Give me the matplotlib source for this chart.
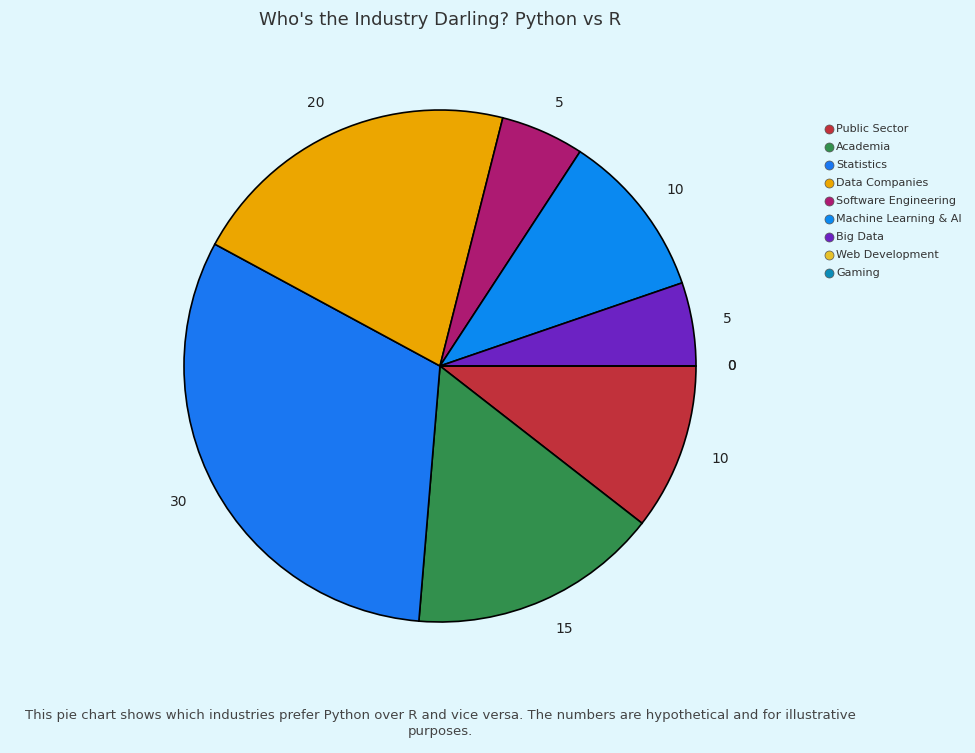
import matplotlib.pyplot as plt
from matplotlib.lines import Line2D

# данные
industries = ['Public Sector', 'Academia', 'Statistics', 'Data Companies',
              'Software Engineering', 'Machine Learning & AI', 'Big Data',
              'Web Development', 'Gaming']
values = [10, 15, 30, 20, 5, 10, 5, 0, 0]
colors = ['#c1313b', '#32904d', '#1a77f2', '#eca600', '#ad1a72',
          '#0a89f1', '#6c22c3', '#e6c12b', '#0b8cb7']

bg = '#e1f7fd'
fig = plt.figure(figsize=(9.75, 7.53), dpi=100, facecolor=bg)
ax = fig.add_axes([(440 - 256) / 975, (387 - 256) / 753, 512 / 975, 512 / 753])
ax.set_facecolor(bg)

ax.pie(values, colors=colors, startangle=0, counterclock=False,
       labels=[str(v) for v in values], labeldistance=1.12,
       wedgeprops=dict(edgecolor='black', linewidth=1.2),
       textprops=dict(fontsize=10, color='#222222'))
ax.set_xlim(-1, 1)
ax.set_ylim(-1, 1)
ax.set_aspect('equal')

fig.text(440 / 975, 1 - 20 / 753, "Who's the Industry Darling? Python vs R",
         ha='center', va='center', fontsize=13, color='#333333')

handles = [Line2D([], [], marker='o', linestyle='', markersize=6.5,
                  markerfacecolor=c, markeredgecolor='#555555', markeredgewidth=0.5)
           for c in colors]
fig.legend(handles, industries, loc='upper left',
           bbox_to_anchor=(818 / 975, 1 - 120 / 753), frameon=False,
           fontsize=8, handletextpad=0.05, labelspacing=0.72,
           handlelength=1.2, labelcolor='#333333', borderaxespad=0)

fig.text(440 / 975, 1 - 724 / 753,
         "This pie chart shows which industries prefer Python over R and vice versa. "
         "The numbers are hypothetical and for illustrative\npurposes.",
         ha='center', va='center', fontsize=9.5, color='#444444', linespacing=1.3)

plt.savefig('out.png', facecolor=bg)
